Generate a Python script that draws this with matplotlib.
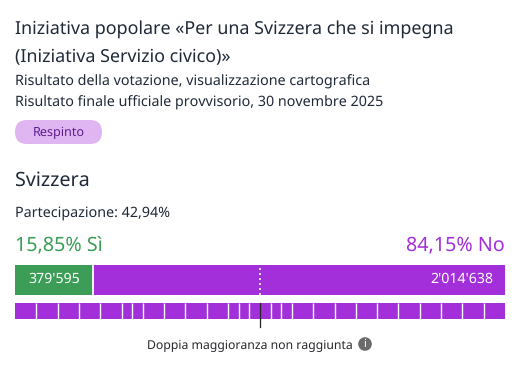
import numpy as np
import matplotlib
matplotlib.use('Agg')
import matplotlib.pyplot as plt
from matplotlib.patches import FancyBboxPatch, Circle

W, H = 514, 365

title_lines = ['Iniziativa popolare «Per una Svizzera che si impegna', '(Iniziativa Servizio civico)»']
subtitle_lines = ['Risultato della votazione, visualizzazione cartografica',
                  'Risultato finale ufficiale provvisorio, 30 novembre 2025']
status = 'Respinto'
region = 'Svizzera'
turnout = 'Partecipazione: 42,94%'
yes_label = '15,85% Sì'
no_label = '84,15% No'
yes_votes = 379595
no_votes = 2014638
yes_text = "379'595"
no_text = "2'014'638"
canton_weights = [1, 1, 1, 1, 1, 0.5, 0.5, 1, 1, 1, 1, 0.5, 0.5, 1, 0.5, 0.5,
                  1, 1, 1, 1, 1, 1, 1, 1, 1, 1]
footer = 'Doppia maggioranza non raggiunta'

GREEN = '#3b9d56'
PURPLE = '#a22fd9'
DARK = '#1f2937'

plt.rcParams['font.family'] = ['Noto Sans', 'DejaVu Sans']
plt.rcParams['text.hinting'] = 'none'
plt.rcParams['text.hinting_factor'] = 1

fig = plt.figure(figsize=(W / 100, H / 100), dpi=100)

# Overlay in pixel coordinates for texts and the pill
bg = fig.add_axes([0, 0, 1, 1])
bg.set_xlim(0, W)
bg.set_ylim(H, 0)
bg.axis('off')
bg.set_zorder(2)
bg.patch.set_alpha(0)


def label(x, y, s, size, color=DARK, ha='left'):
    bg.text(x, y, s, fontsize=size, color=color, ha=ha, va='center')


label(15, 29, title_lines[0], 12.9)
label(15, 58, title_lines[1], 12.9)
label(15, 82, subtitle_lines[0], 10.3)
label(15, 103, subtitle_lines[1], 10.3)

bg.add_patch(FancyBboxPatch((15, 120), 87, 24, boxstyle='round,pad=0,rounding_size=12',
                            lw=0, fc='#dfb6f1', mutation_aspect=1))
bg.text(58.5, 132.5, status, fontsize=9.1, color='#5f1d8f', ha='center', va='center')

label(15, 181, region, 14.2)
label(15, 212.5, turnout, 10.3)
label(15, 245, yes_label, 14.2, GREEN)
label(505, 245, no_label, 14.2, PURPLE, ha='right')

# Popular vote bar
total = yes_votes + no_votes
ax1 = fig.add_axes([15 / W, 1 - 295 / H, 490 / W, 30 / H])
ax1.set_xlim(0, total)
ax1.set_ylim(0, 1)
ax1.axis('off')
ax1.barh(0.5, yes_votes, height=1, color=GREEN, lw=0)
ax1.barh(0.5, no_votes, left=yes_votes, height=1, color=PURPLE, lw=0)
ax1.axvline(yes_votes, color='white', lw=1.3)
ax1.axvline(total / 2, color='white', lw=1.2, ls=(0, (1.2, 1.8)))
ax1.text(yes_votes / 2, 0.52, yes_text, color='white', fontsize=10.2, ha='center', va='center')
ax1.text(total * 0.9755, 0.52, no_text, color='white', fontsize=10.2, ha='right', va='center')

# Canton bar
weights = np.array(canton_weights)
lefts = np.concatenate([[0], np.cumsum(weights)[:-1]])
ax2 = fig.add_axes([15 / W, 1 - 319 / H, 490 / W, 16 / H])
ax2.set_xlim(0, weights.sum())
ax2.set_ylim(0, 1)
ax2.axis('off')
ax2.barh(np.full(len(weights), 0.5), weights, left=lefts, height=1, color=PURPLE, lw=0)
ax2.vlines(lefts[1:], 0, 1, color='white', lw=1.0)

# Majority tick and footer
mid = 15 + 490 / 2
bg.plot([mid, mid], [303, 327], color='#26272b', lw=0.9, zorder=5)

label(147, 344.5, footer, 8.8, '#26272b')
bg.add_patch(Circle((365, 344), 6.8, fc='#6b6b6b', lw=0))
bg.text(365, 344, 'i', color='white', fontsize=8, fontweight='bold', ha='center', va='center')

fig.savefig('out.png', dpi=100)
